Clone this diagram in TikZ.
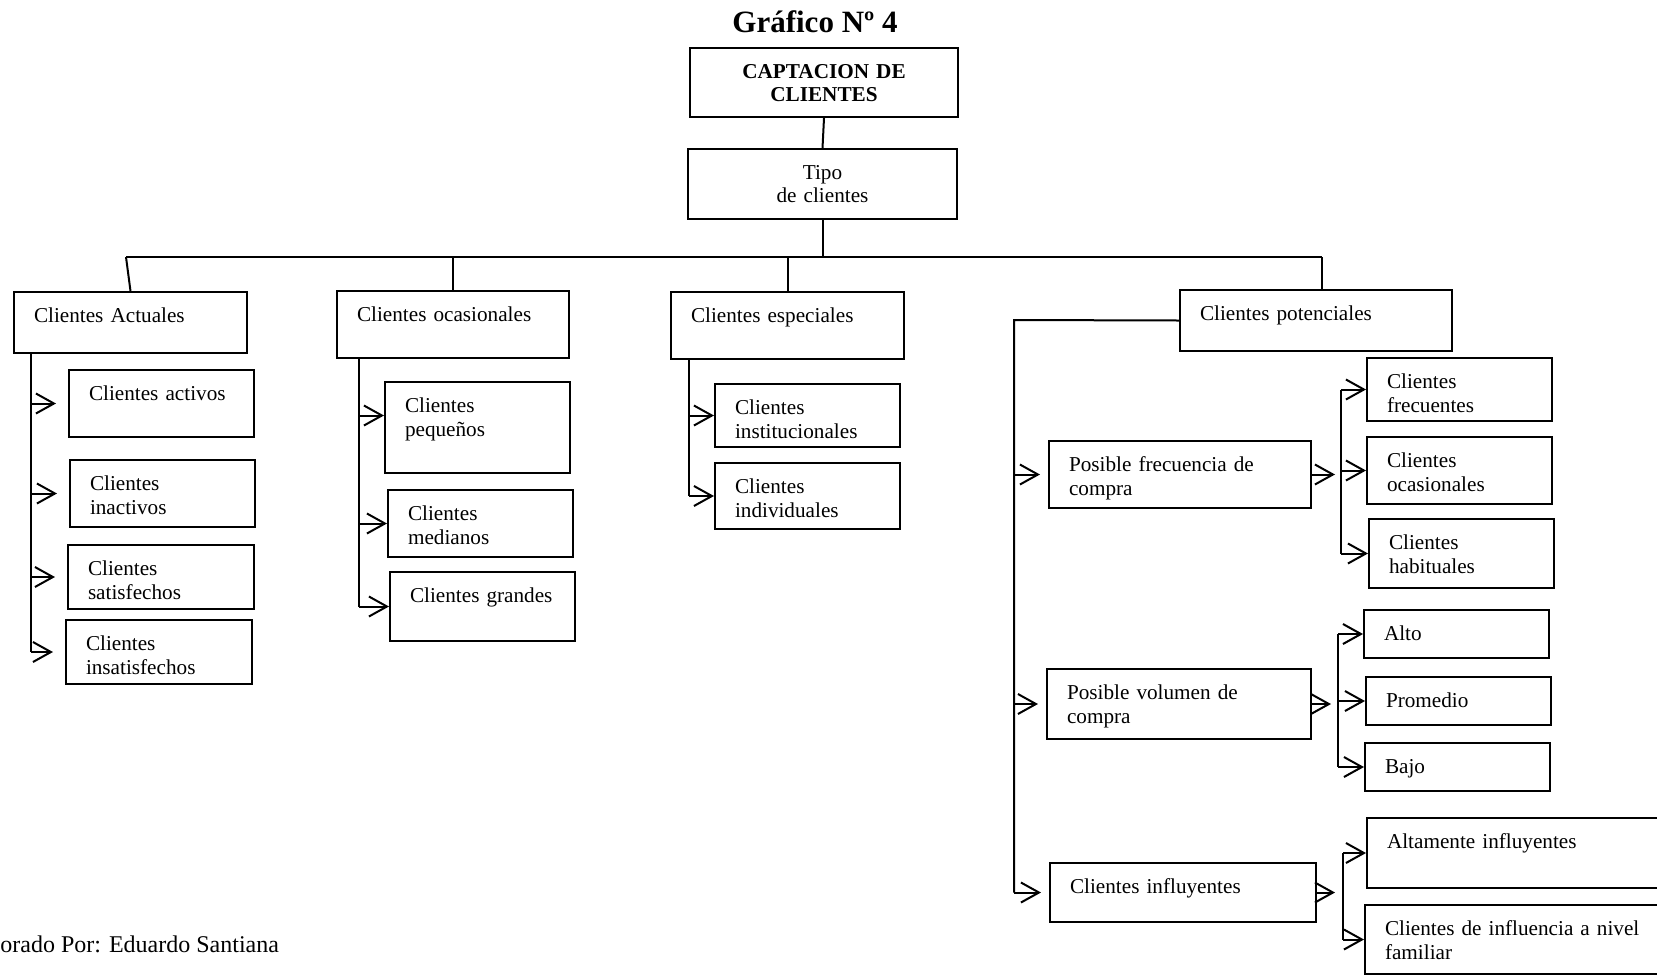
\documentclass[tikz,border=0pt]{standalone}
\usepackage{fontspec}
\setmainfont{Liberation Serif}
\usetikzlibrary{arrows.meta}
\newcommand\bodyfont{\fontsize{10.6pt}{12.25pt}\selectfont}
\newcommand\headfont{\fontsize{10.6pt}{11.5pt}\selectfont}

\begin{document}
\begin{tikzpicture}[x=0.5pt,y=-0.5pt,
 cbox/.style 2 args={draw,line width=1pt,anchor=north west,inner xsep=10pt,inner ysep=0pt,
   minimum width=#1*0.5pt,text width=#1*0.5pt-20pt,align=left,
   text height=15pt,text depth=#2*0.5pt-15pt,font=\bodyfont},
 link/.style={line width=1pt},
 arr/.style={line width=1pt,-{Straight Barb[length=9pt,width=10pt]}}]
\clip (0,0) rectangle (1657,975);
\node[anchor=base,inner sep=0pt,font=\fontsize{15.5pt}{18pt}\selectfont\bfseries] (titulo) at (815,32) {Gráfico Nº 4};
\node[cbox={268}{69},align=center,font=\headfont\bfseries] (capt) at (689,47) {CAPTACION DE\\CLIENTES};
\node[cbox={269}{70},align=center,font=\headfont] (tipo) at (687,148) {Tipo\\de clientes};
% clientes actuales
\node[cbox={233}{61}] (actuales) at (13,291) {Clientes Actuales};
\node[cbox={185}{67}] (activos) at (68,369) {Clientes activos};
\node[cbox={185}{67}] (inactivos) at (69,459) {Clientes\\inactivos};
\node[cbox={186}{64}] (satisf) at (67,544) {Clientes\\satisfechos};
\node[cbox={186}{64}] (insatisf) at (65,619) {Clientes\\insatisfechos};
% clientes ocasionales
\node[cbox={232}{67}] (ocasion) at (336,290) {Clientes ocasionales};
\node[cbox={185}{91}] (pequenos) at (384,381) {Clientes\\pequeños};
\node[cbox={185}{67}] (medianos) at (387,489) {Clientes\\medianos};
\node[cbox={185}{69}] (grandes) at (389,571) {Clientes grandes};
% clientes especiales
\node[cbox={233}{67}] (especial) at (670,291) {Clientes especiales};
\node[cbox={185}{63}] (instit) at (714,383) {Clientes\\institucionales};
\node[cbox={185}{66}] (individ) at (714,462) {Clientes\\individuales};
% clientes potenciales
\node[cbox={272}{61}] (potenc) at (1179,289) {Clientes potenciales};
\node[cbox={262}{67}] (frecuencia) at (1048,440) {Posible frecuencia de\\compra};
\node[cbox={264}{70}] (volumen) at (1046,668) {Posible volumen de\\compra};
\node[cbox={266}{59}] (influy) at (1049,862) {Clientes influyentes};
\node[cbox={185}{63}] (frecuentes) at (1366,357) {Clientes\\frecuentes};
\node[cbox={185}{67}] (ocasion2) at (1366,436) {Clientes\\ocasionales};
\node[cbox={185}{69}] (habituales) at (1368,518) {Clientes\\habituales};
\node[cbox={185}{48}] (alto) at (1363,609) {Alto};
\node[cbox={185}{48}] (promedio) at (1365,676) {Promedio};
\node[cbox={185}{48}] (bajo) at (1364,742) {Bajo};
\node[cbox={334}{70}] (altamente) at (1366,817) {Altamente influyentes};
\node[cbox={336}{69}] (familiar) at (1364,904) {Clientes de influencia a nivel\\familiar};
\node[anchor=base west,inner sep=0pt,font=\fontsize{12pt}{14pt}\selectfont] (autor) at (0,952) {orado Por: Eduardo Santiana};
% tronco principal
\draw[link] (capt.south) -- (tipo.north);
\coordinate (busL) at (126,257);
\coordinate (busR) at (1322,257);
\draw[link,line width=1.2pt] (busL) -- (busR);
\draw[link] (tipo.south) -- (tipo.south |- busL);
\draw[link] (busL) -- (actuales.north);
\draw[link] (ocasion.north |- busL) -- (ocasion.north);
\draw[link] (especial.north |- busL) -- (especial.north);
\draw[link] (busR) -- (busR |- potenc.north);
% ramas de actuales
\coordinate (tr1) at ([xshift=9pt]actuales.south west);
\draw[link] (tr1) -- (tr1 |- insatisf.west);
\draw[arr,shorten >=6pt] (tr1 |- activos.west) -- (activos.west);
\draw[arr,shorten >=6pt] (tr1 |- inactivos.west) -- (inactivos.west);
\draw[arr,shorten >=6pt] (tr1 |- satisf.west) -- (satisf.west);
\draw[arr,shorten >=6pt] (tr1 |- insatisf.west) -- (insatisf.west);
% ramas de ocasionales
\coordinate (tr2) at ([xshift=11.5pt]ocasion.south west);
\coordinate (peqin) at ([yshift=6pt]pequenos.west);
\draw[link] (tr2) -- (tr2 |- grandes.west);
\draw[arr] (tr2 |- peqin) -- (peqin);
\draw[arr] (tr2 |- medianos.west) -- (medianos.west);
\draw[arr] (tr2 |- grandes.west) -- (grandes.west);
% ramas de especiales
\coordinate (tr3) at ([xshift=9.5pt]especial.south west);
\draw[link] (tr3) -- (tr3 |- individ.west);
\draw[arr] (tr3 |- instit.west) -- (instit.west);
\draw[arr] (tr3 |- individ.west) -- (individ.west);
% ramas de potenciales
\coordinate (tr4) at (1014,320);
\draw[link] (potenc.west) -- (tr4) -- (tr4 |- influy.west);
\draw[arr,shorten >=4pt] (tr4 |- frecuencia.west) -- (frecuencia.west);
\draw[arr,shorten >=4pt] (tr4 |- volumen.west) -- (volumen.west);
\draw[arr,shorten >=4pt] (tr4 |- influy.west) -- (influy.west);
% frecuencia
\coordinate (tr5) at (1341,390);
\draw[arr,shorten >=3pt] (frecuencia.east) -- (frecuencia.east -| tr5);
\draw[link] (tr5 |- frecuentes.west) -- (tr5 |- habituales.west);
\draw[arr] (tr5 |- frecuentes.west) -- (frecuentes.west);
\draw[arr] (tr5 |- ocasion2.west) -- (ocasion2.west);
\draw[arr] (tr5 |- habituales.west) -- (habituales.west);
% volumen
\coordinate (tr6) at (1338,630);
\draw[arr,shorten >=3.5pt] (volumen.east) -- (volumen.east -| tr6);
\draw[link] (tr6 |- alto.west) -- (tr6 |- bajo.west);
\draw[arr] (tr6 |- alto.west) -- (alto.west);
\draw[arr] (tr6 |- promedio.west) -- (promedio.west);
\draw[arr] (tr6 |- bajo.west) -- (bajo.west);
% influyentes
\coordinate (tr7) at (1343,852);
\draw[arr,shorten >=4pt] (influy.east) -- (influy.east -| tr7);
\draw[link] (tr7 |- altamente.west) -- (tr7 |- familiar.west);
\draw[arr] (tr7 |- altamente.west) -- (altamente.west);
\draw[arr] (tr7 |- familiar.west) -- (familiar.west);
\end{tikzpicture}
\end{document}
